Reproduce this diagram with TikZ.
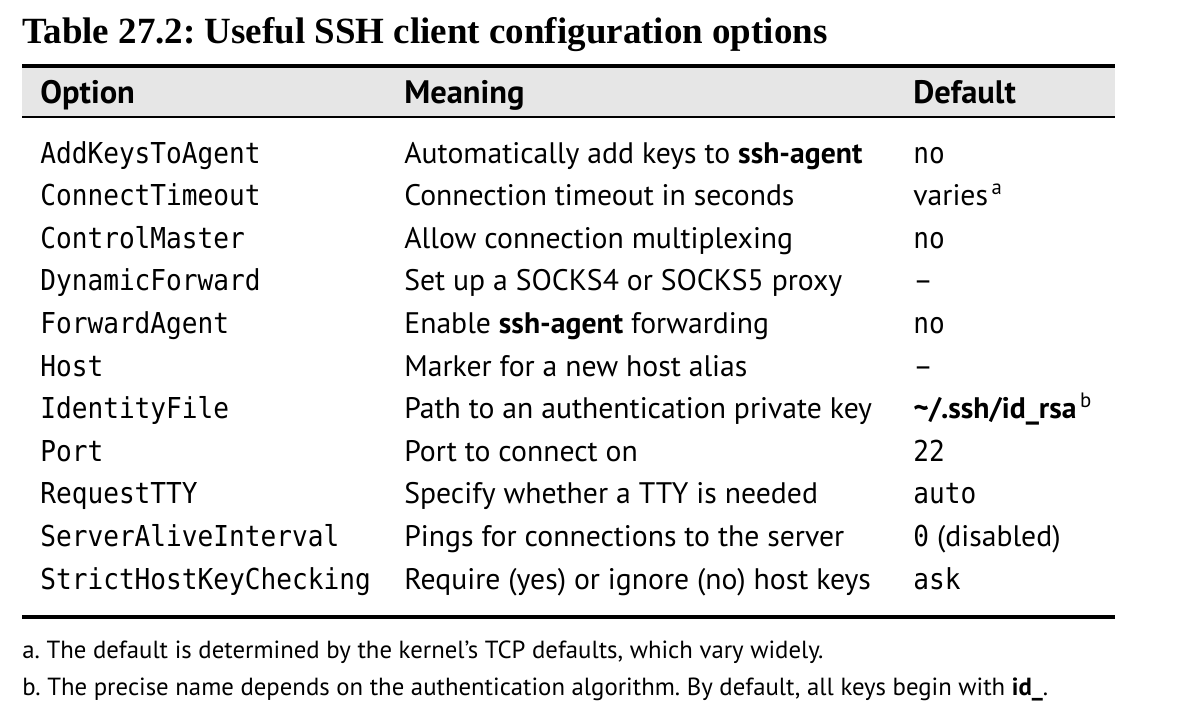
\documentclass[tikz,border=0pt]{standalone}
\usepackage{fontspec}
\setmainfont{Liberation Serif}
\setsansfont{PT Sans}
\setmonofont{DejaVu Sans Mono}[FakeStretch=0.907]
\usetikzlibrary{positioning}
\frenchspacing
\definecolor{headgray}{RGB}{230,230,230}
\tikzset{
  title/.style={anchor=base west, inner sep=0pt, font=\fontsize{21.05}{24}\selectfont\bfseries},
  head/.style={anchor=base west, inner sep=0pt, font=\fontsize{18.5}{22}\selectfont\sffamily\bfseries},
  opt/.style={anchor=base west, inner sep=0pt, font=\fontsize{16.4}{20}\selectfont\ttfamily},
  mean/.style={anchor=base west, inner sep=0pt, font=\fontsize{16.9}{20}\selectfont\sffamily},
  dflt/.style={anchor=base west, inner sep=0pt, font=\fontsize{16.9}{20}\selectfont\sffamily},
  foot/.style={anchor=base west, inner sep=0pt, font=\fontsize{14.1}{17}\selectfont\sffamily}
}
\newcommand{\tmono}[1]{{\fontsize{16.4}{20}\selectfont\ttfamily #1}}
\newcommand{\fnmark}[1]{\textsuperscript{\,#1}}
\newcommand{\idrsa}{\textbf{\textasciitilde/.ssh/id\_rsa}\fnmark{b}}

\begin{document}
\begin{tikzpicture}[x=0.02cm, y=-0.02cm]
    \useasboundingbox (0,0) rectangle (1179,725);
    \fill[white] (0,0) rectangle (1179,725);
    % Title of the table.
    \node[title] (title) at (22,43) {Table 27.2: Useful SSH client configuration options};
    % Header band and its rules.
    \fill[headgray] (22,66) rectangle (1115,117);
    \draw[line width=3.5pt*0.5691] (22,66) -- (1115,66);
    \draw[line width=2pt*0.5691] (22,117) -- (1115,117);
    \node[head] (hopt) at (40,103) {Option};
    \node[head] (hmean) at (404,103) {Meaning};
    \node[head] (hdef) at (913,103) {Default};
    % The rows, one option per line.
    \foreach \o/\m/\d [count=\i] in {
        AddKeysToAgent/{Automatically add keys to \textbf{ssh-agent}}/\tmono{no},
        ConnectTimeout/Connection timeout in seconds/varies\fnmark{a},
        ControlMaster/Allow connection multiplexing/\tmono{no},
        DynamicForward/Set up a SOCKS4 or SOCKS5 proxy/--,
        ForwardAgent/{Enable \textbf{ssh-agent} forwarding}/\tmono{no},
        Host/Marker for a new host alias/--,
        IdentityFile/Path to an authentication private key/\idrsa,
        Port/Port to connect on/\tmono{22},
        RequestTTY/Specify whether a TTY is needed/\tmono{auto},
        ServerAliveInterval/Pings for connections to the server/{\tmono{0} (disabled)},
        StrictHostKeyChecking/Require (yes) or ignore (no) host keys/\tmono{ask}} {
      \node[opt] (opt\i) at (40,{163+42.6*(\i-1)}) {\o};
      \node[mean] (mean\i) at (404,{163+42.6*(\i-1)}) {\m};
      \node[dflt] (def\i) at (913,{163+42.6*(\i-1)}) {\d};
    }
    % Closing rule.
    \draw[line width=3.5pt*0.5691] (22,617) -- (1115,617);
    % Footnotes.
    \node[foot] (fna) at (22,658) {a.\ The default is determined by the kernel's TCP defaults, which vary widely.};
    \node[foot] (fnb) at (22,695) {b.\ The precise name depends on the authentication algorithm. By default, all keys begin with \textbf{id\_}.};
\end{tikzpicture}
\end{document}
